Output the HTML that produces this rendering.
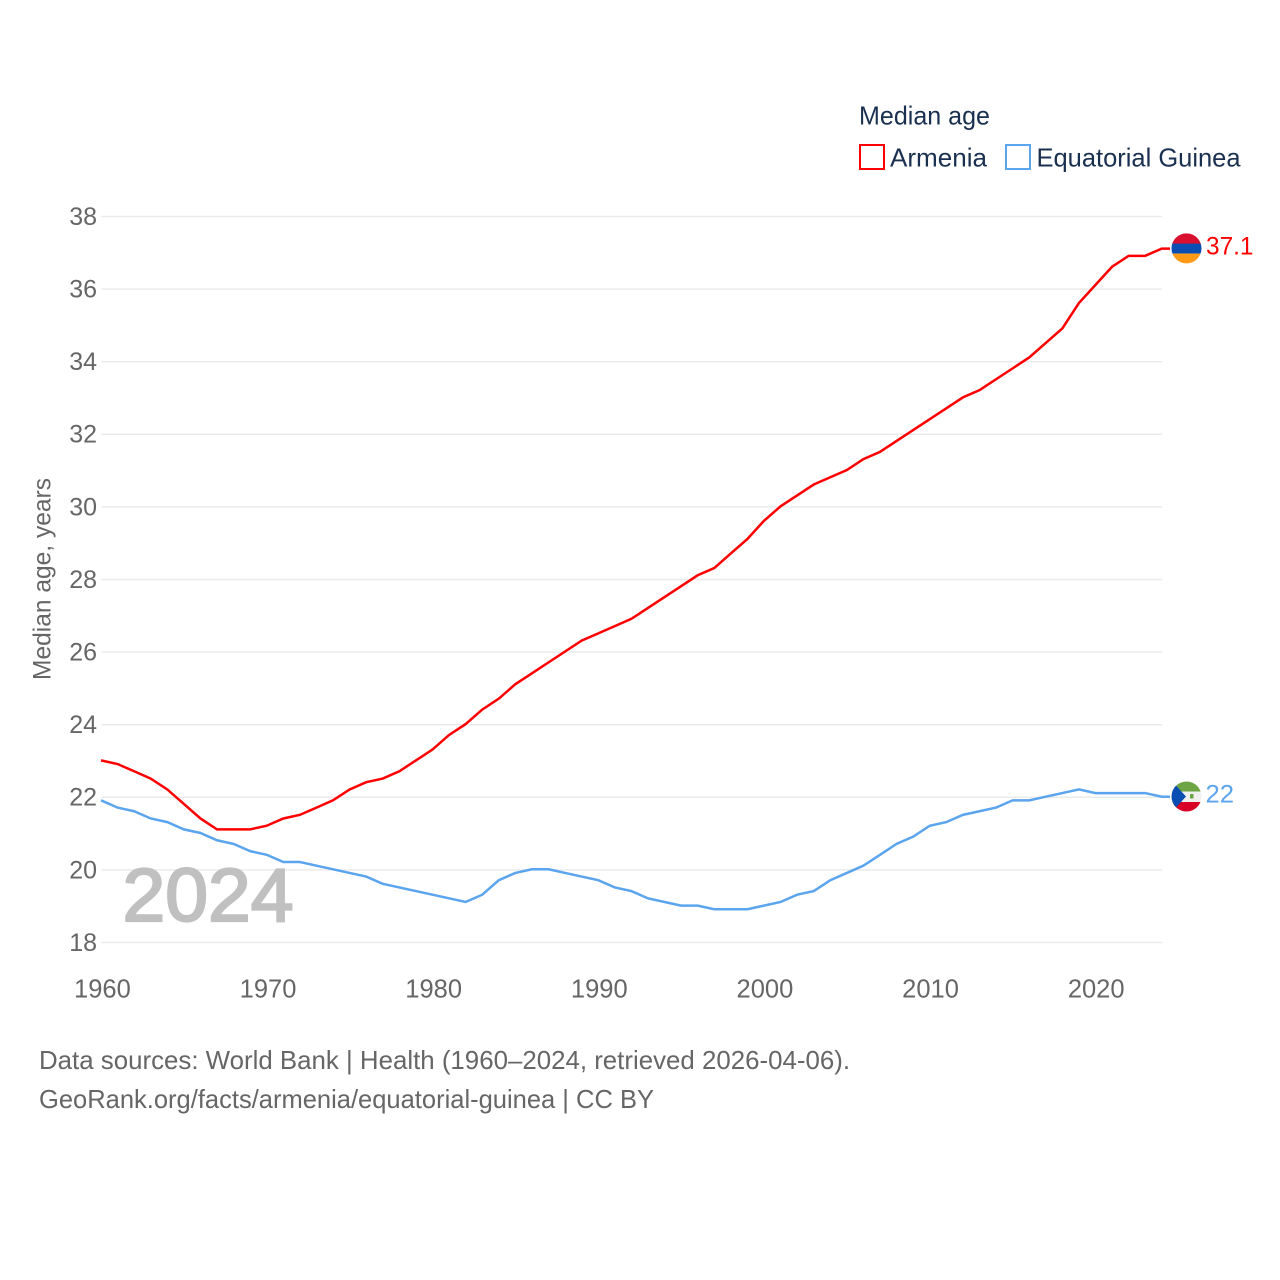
<!DOCTYPE html>
<html lang="en">
<head>
<meta charset="utf-8">
<title>Median age: Armenia and Equatorial Guinea</title>
<style>
html,body{margin:0;padding:0;background:#fff;width:1280px;height:1280px;overflow:hidden}
svg{display:block}
text{font-family:"Liberation Sans",sans-serif}
</style>
</head>
<body>
<svg id="chart" width="1280" height="1280" viewBox="0 0 1280 1280" xmlns="http://www.w3.org/2000/svg">
  <defs>
    <clipPath id="clip-am"><circle cx="1186.5" cy="248.4" r="15"/></clipPath>
    <clipPath id="clip-gq"><circle cx="1186.5" cy="796.5" r="15"/></clipPath>
  </defs>
  <rect width="1280" height="1280" fill="#fff"/>
  <g id="grid"></g>
  <g id="yticks"></g>
  <g id="xticks"></g>
  <text transform="translate(50.5,680) rotate(-90)" font-size="25" fill="#666" textLength="202" lengthAdjust="spacingAndGlyphs">Median age, years</text>
  <text x="122.5" y="921" font-size="75" font-weight="normal" fill="#c0c0c0" stroke="#c0c0c0" stroke-width="2.2" textLength="171" lengthAdjust="spacingAndGlyphs">2024</text>
  <g id="series"></g>

  <g clip-path="url(#clip-am)">
    <rect x="1171" y="233" width="31" height="11" fill="#d90f2f"/>
    <rect x="1171" y="243.6" width="31" height="10" fill="#0a4db3"/>
    <rect x="1171" y="253.6" width="31" height="11" fill="#ff9a17"/>
  </g>
  <g clip-path="url(#clip-gq)">
    <rect x="1171" y="781" width="31" height="10.5" fill="#6da544"/>
    <rect x="1171" y="791.5" width="31" height="10.5" fill="#f0f0f0"/>
    <rect x="1171" y="802" width="31" height="10.5" fill="#d80027"/>
    <polygon points="1171,780 1186,796.5 1171,813" fill="#0a4db3"/>
    <rect x="1190" y="794" width="3.5" height="4.5" fill="#6da544"/>
  </g>

  <text id="label-am" x="1206" y="254.5" font-size="25" fill="#ff0000" textLength="47.5" lengthAdjust="spacingAndGlyphs">37.1</text>
  <text id="label-gq" x="1205.5" y="802.5" font-size="25" fill="#5ba4ee" textLength="28.5" lengthAdjust="spacingAndGlyphs">22</text>

  <g>
    <text x="859" y="124.5" font-size="26" fill="#1a3050" textLength="131" lengthAdjust="spacingAndGlyphs">Median age</text>
    <rect x="860" y="145" width="24" height="24" fill="#fff" stroke="#ff0000" stroke-width="2"/>
    <text x="890" y="166.5" font-size="26" fill="#1a3050" textLength="97" lengthAdjust="spacingAndGlyphs">Armenia</text>
    <rect x="1006" y="145" width="24" height="24" fill="#fff" stroke="#5ba4ee" stroke-width="2"/>
    <text x="1036.5" y="166.5" font-size="26" fill="#1a3050" textLength="204" lengthAdjust="spacingAndGlyphs">Equatorial Guinea</text>
  </g>

  <text x="39" y="1069" font-size="26" fill="#666" textLength="811" lengthAdjust="spacingAndGlyphs">Data sources: World Bank | Health (1960–2024, retrieved 2026-04-06).</text>
  <text x="39" y="1108" font-size="26" fill="#666" textLength="615" lengthAdjust="spacingAndGlyphs">GeoRank.org/facts/armenia/equatorial-guinea | CC BY</text>
</svg>
<script>
const startYear = 1960;
const armeniaValues = [23.0,22.9,22.7,22.5,22.2,21.8,21.4,21.1,21.1,21.1,21.2,21.4,21.5,21.7,21.9,22.2,22.4,22.5,22.7,23.0,23.3,23.7,24.0,24.4,24.7,25.1,25.4,25.7,26.0,26.3,26.5,26.7,26.9,27.2,27.5,27.8,28.1,28.3,28.7,29.1,29.6,30.0,30.3,30.6,30.8,31.0,31.3,31.5,31.8,32.1,32.4,32.7,33.0,33.2,33.5,33.8,34.1,34.5,34.9,35.6,36.1,36.6,36.9,36.9,37.1];
const guineaValues = [21.9,21.7,21.6,21.4,21.3,21.1,21.0,20.8,20.7,20.5,20.4,20.2,20.2,20.1,20.0,19.9,19.8,19.6,19.5,19.4,19.3,19.2,19.1,19.3,19.7,19.9,20.0,20.0,19.9,19.8,19.7,19.5,19.4,19.2,19.1,19.0,19.0,18.9,18.9,18.9,19.0,19.1,19.3,19.4,19.7,19.9,20.1,20.4,20.7,20.9,21.2,21.3,21.5,21.6,21.7,21.9,21.9,22.0,22.1,22.2,22.1,22.1,22.1,22.1,22.0];
const yTickValues = [18,20,22,24,26,28,30,32,34,36,38];
const xTickValues = [1960,1970,1980,1990,2000,2010,2020];

const NS = 'http://www.w3.org/2000/svg';
const xScale = year => 101 + (year - 1960) * 16.575;
const yScale = value => 941.9 - (value - 18) * 36.3;

const gridGroup = document.getElementById('grid');
const yGroup = document.getElementById('yticks');
const xGroup = document.getElementById('xticks');
const seriesGroup = document.getElementById('series');

yTickValues.forEach(v => {
  const line = document.createElementNS(NS, 'line');
  
  
  line.setAttribute('x1', 101.5);
  line.setAttribute('x2', 1162);
  line.setAttribute('y1', yScale(v) + 0.6);
  line.setAttribute('y2', yScale(v) + 0.6);
  line.setAttribute('stroke', '#ebebeb');
  line.setAttribute('stroke-width', '1.5');
  gridGroup.appendChild(line);

  const label = document.createElementNS(NS, 'text');
  
  
  label.setAttribute('x', 97);
  label.setAttribute('y', yScale(v) + 9);
  label.setAttribute('text-anchor', 'end');
  label.setAttribute('font-size', '25');
  label.setAttribute('fill', '#666');
  label.textContent = v;
  yGroup.appendChild(label);
});

xTickValues.forEach(y => {
  const label = document.createElementNS(NS, 'text');
  
  
  label.setAttribute('x', xScale(y) + 1.4 - (y - 1960) * 0.012);
  label.setAttribute('y', 997.5);
  label.setAttribute('text-anchor', 'middle');
  label.setAttribute('font-size', '25.5');
  label.setAttribute('fill', '#666');
  label.textContent = y;
  xGroup.appendChild(label);
});

function pathFrom(values) {
  const pts = values.map((v, i) => xScale(startYear + i).toFixed(2) + ',' + yScale(v).toFixed(2));
  const last = values[values.length - 1];
  pts.push('1170,' + yScale(last).toFixed(2));
  return 'M' + pts.join('L');
}

const armeniaLine = document.createElementNS(NS, 'path');


armeniaLine.setAttribute('d', pathFrom(armeniaValues));
armeniaLine.setAttribute('fill', 'none');
armeniaLine.setAttribute('stroke', '#ff0000');
armeniaLine.setAttribute('stroke-width', '2.5');
seriesGroup.appendChild(armeniaLine);

const guineaLine = document.createElementNS(NS, 'path');


guineaLine.setAttribute('d', pathFrom(guineaValues));
guineaLine.setAttribute('fill', 'none');
guineaLine.setAttribute('stroke', '#5ba4ee');
guineaLine.setAttribute('stroke-width', '2.5');
seriesGroup.appendChild(guineaLine);
</script>
</body>
</html>
